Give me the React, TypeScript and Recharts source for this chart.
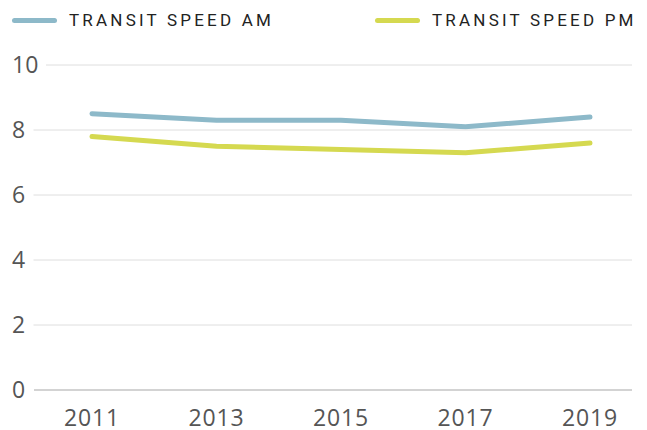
import React from 'react';
import { LineChart, Line, XAxis, YAxis } from 'recharts';

const years = ['2011', '2013', '2015', '2017', '2019'];
const speedAm = [8.5, 8.3, 8.3, 8.1, 8.4];
const speedPm = [7.8, 7.5, 7.4, 7.3, 7.6];
const yTicks = [0, 2, 4, 6, 8, 10];

const series = [
  { key: 'am', name: 'TRANSIT SPEED AM', color: '#8db9c9' },
  { key: 'pm', name: 'TRANSIT SPEED PM', color: '#d5d950' },
];

const data = years.map((y, i) => ({ year: y, am: speedAm[i], pm: speedPm[i] }));

const W = 647;
const H = 430;
const RIGHT = 632;
const FONT = "'Open Sans', sans-serif";

const YTick = ({ y, payload }: any) => {
  const label = String(payload.value);
  const x1 = 10 + label.length * 12.5 + 11;
  return (
    <g>
      <text x={12} y={y} dy="0.36em" textAnchor="start" fontSize={23} fill="#555" fontFamily={FONT}>
        {label}
      </text>
      {payload.value !== 0 && (
        <line x1={x1} x2={RIGHT} y1={y} y2={y} stroke="#dedede" strokeWidth={1} />
      )}
    </g>
  );
};

const XTick = ({ x, y, payload }: any) => (
  <text
    x={x}
    y={y + 12}
    dy="0.71em"
    textAnchor="middle"
    fontSize={23}
    letterSpacing={0.8}
    fill="#555"
    fontFamily={FONT}
  >
    {payload.value}
  </text>
);

const LegendRow = () => (
  <div style={{ position: 'absolute', top: 0, left: 0, width: W, height: 40 }}>
    {series.map((s, i) => (
      <div
        key={s.key}
        style={{
          position: 'absolute',
          top: 10,
          left: i === 0 ? 12 : 375,
          display: 'flex',
          alignItems: 'center',
          height: 20,
        }}
      >
        <span
          style={{
            display: 'inline-block',
            width: 45,
            height: 5,
            borderRadius: 3,
            background: s.color,
            marginRight: 12,
          }}
        />
        <span
          style={{
            fontFamily: 'Roboto, sans-serif',
            fontSize: 17,
            letterSpacing: 3.2,
            color: '#222',
            whiteSpace: 'nowrap',
          }}
        >
          {s.name}
        </span>
      </div>
    ))}
  </div>
);

export default function App() {
  return (
    <div style={{ position: 'absolute', top: 0, left: 0, width: W, height: H, background: '#fff' }}>
      <LegendRow />
      <LineChart
        width={W}
        height={H}
        data={data}
        margin={{ top: 65, right: W - RIGHT, bottom: 0, left: 0 }}
      >
        <XAxis
          dataKey="year"
          height={40}
          axisLine={{ stroke: '#c4c4c4', strokeWidth: 1.5 }}
          tickLine={false}
          tick={<XTick />}
          padding={{ left: 58, right: 42 }}
          interval={0}
        />
        <YAxis
          width={34}
          domain={[0, 10]}
          ticks={yTicks}
          axisLine={false}
          tickLine={false}
          tick={<YTick />}
          interval={0}
        />
        {series.map((s) => (
          <Line
            key={s.key}
            type="linear"
            dataKey={s.key}
            name={s.name}
            stroke={s.color}
            strokeWidth={5}
            strokeLinecap="round"
            strokeLinejoin="round"
            dot={false}
            activeDot={false}
            isAnimationActive={false}
          />
        ))}
      </LineChart>
    </div>
  );
}
